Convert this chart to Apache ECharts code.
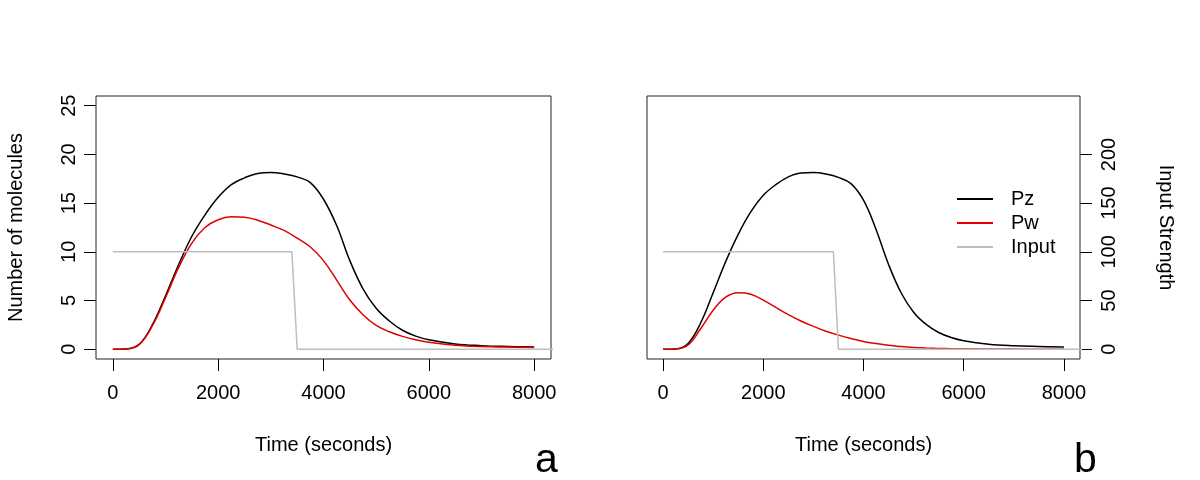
<!DOCTYPE html>
<html>
<head>
<meta charset="utf-8">
<script src="https://cdn.jsdelivr.net/npm/echarts@6/dist/echarts.min.js"></script>
<style>
html,body{margin:0;padding:0;background:#fff;}
#chart{width:1200px;height:480px;}
</style>
</head>
<body>
<div id="chart"></div>
<script>
// ---- data ----
var times = [0,250,500,750,1000,1250,1500,1750,2000,2250,2500,2750,3000,3250,3500,3750,4000,4250,4500,4750,5000,5250,5500,5750,6000,6500,7000,7500,8000];
var pzA = [0,0.03,0.5,2.5,5.5,8.7,11.6,13.8,15.6,16.9,17.6,18.05,18.15,18.0,17.7,17.1,15.4,12.7,9.1,6.2,4.2,2.9,1.95,1.35,0.98,0.55,0.37,0.28,0.22];
var pwA = [0,0.03,0.5,2.4,5.3,8.4,10.9,12.5,13.3,13.6,13.55,13.25,12.75,12.2,11.4,10.5,9.1,7.1,5.05,3.55,2.45,1.8,1.32,0.97,0.72,0.42,0.28,0.22,0.18];
var pzB = [0,0.03,0.6,2.7,5.8,9.0,11.8,14.1,15.8,16.9,17.7,18.1,18.15,18.0,17.65,17.0,15.3,12.3,8.7,5.8,3.8,2.55,1.72,1.2,0.87,0.52,0.36,0.28,0.22];
var pwB = [0,0.03,0.45,2.1,4.0,5.35,5.8,5.65,5.05,4.3,3.55,2.9,2.35,1.85,1.45,1.1,0.8,0.58,0.4,0.28,0.19,0.13,0.09,0.06,0.05,0.03,0.02,0.01,0.01];
var inputTimes = [0,3400,3500,9000];
var inputStrength = [100,100,0,0];
var xTicks = [0,2000,4000,6000,8000];
var yTicks = [0,5,10,15,20,25];
var y2Ticks = [0,50,100,150,200];

function pairs(xs, ys){ return xs.map(function(x,i){ return [x, ys[i]]; }); }
function plain(v){ return String(v); }

var FONT = 'Liberation Sans, Arial, Helvetica, sans-serif';
var FS = 20;
var chart = echarts.init(document.getElementById('chart'), null, {renderer:'canvas'});

function xAxisDef(gi){
  return {
    type:'value', gridIndex:gi, min:-320, max:8320,
    axisLine:{show:false, onZero:false},
    splitLine:{show:false},
    axisTick:{show:true, inside:false, length:12, lineStyle:{color:'#000', width:1}, customValues:xTicks},
    axisLabel:{show:true, margin:24, color:'#000', fontSize:FS, fontFamily:FONT, customValues:xTicks, formatter:plain},
    name:'Time (seconds)', nameLocation:'middle', nameGap:76,
    nameTextStyle:{color:'#000', fontSize:FS, fontFamily:FONT}
  };
}

var option = {
  animation:false,
  backgroundColor:'#fff',
  textStyle:{fontFamily:FONT},
  title:[
    {text:'a', left:530, top:435, textStyle:{fontSize:41, fontWeight:'normal', color:'#000', fontFamily:FONT}},
    {text:'b', left:1069, top:435, textStyle:{fontSize:41, fontWeight:'normal', color:'#000', fontFamily:FONT}}
  ],
  legend:{
    orient:'vertical', left:952, top:182,
    itemWidth:36, itemHeight:2, itemGap:0,
    icon:'rect',
    data:['Pz','Pw','Input'],
    textStyle:{color:'#000', fontSize:FS, fontFamily:FONT, lineHeight:24, padding:[0,0,0,13]},
    selectedMode:false
  },
  grid:[
    {left:96, top:96, width:455, height:263, show:true, borderColor:'#222', borderWidth:1, backgroundColor:'transparent'},
    {left:647, top:96, width:433, height:263, show:true, borderColor:'#222', borderWidth:1, backgroundColor:'transparent'}
  ],
  xAxis:[ xAxisDef(0), xAxisDef(1) ],
  yAxis:[
    { // left panel molecules
      type:'value', gridIndex:0, position:'left', min:-1, max:26,
      axisLine:{show:false, onZero:false}, splitLine:{show:false},
      axisTick:{show:true, length:12, lineStyle:{color:'#000', width:1}, customValues:yTicks},
      axisLabel:{show:true, rotate:90, margin:17, color:'#000', fontSize:FS, fontFamily:FONT, customValues:yTicks, formatter:plain},
      name:'Number of molecules', nameLocation:'middle', nameGap:70, nameRotate:90,
      nameTextStyle:{color:'#000', fontSize:FS, fontFamily:FONT}
    },
    { // left panel hidden input axis
      type:'value', gridIndex:0, position:'right', min:-10, max:260, show:false,
      axisLine:{onZero:false}
    },
    { // right panel hidden molecules axis
      type:'value', gridIndex:1, position:'left', min:-1, max:26, show:false,
      axisLine:{onZero:false}
    },
    { // right panel input axis
      type:'value', gridIndex:1, position:'right', min:-10, max:260,
      axisLine:{show:false, onZero:false}, splitLine:{show:false},
      axisTick:{show:true, length:12, lineStyle:{color:'#000', width:1}, customValues:y2Ticks},
      axisLabel:{show:true, rotate:90, margin:19, color:'#000', fontSize:FS, fontFamily:FONT, customValues:y2Ticks, formatter:plain},
      name:'Input Strength', nameLocation:'middle', nameGap:76, nameRotate:-90,
      nameTextStyle:{color:'#000', fontSize:FS, fontFamily:FONT}
    }
  ],
  series:[
    {name:'Pz', type:'line', xAxisIndex:0, yAxisIndex:0, data:pairs(times,pzA), smooth:0.4, showSymbol:false, symbol:'none', lineStyle:{color:'#000', width:1.5}, itemStyle:{color:'#000'}},
    {name:'Pw', type:'line', xAxisIndex:0, yAxisIndex:0, data:pairs(times,pwA), smooth:0.4, showSymbol:false, symbol:'none', lineStyle:{color:'#e00000', width:1.5}, itemStyle:{color:'#e00000'}},
    {name:'Input', type:'line', xAxisIndex:0, yAxisIndex:1, data:pairs(inputTimes,inputStrength), clip:true, showSymbol:false, symbol:'none', lineStyle:{color:'#bebebe', width:1.5}, itemStyle:{color:'#bebebe'}},
    {name:'Pz', type:'line', xAxisIndex:1, yAxisIndex:2, data:pairs(times,pzB), smooth:0.4, showSymbol:false, symbol:'none', lineStyle:{color:'#000', width:1.5}, itemStyle:{color:'#000'}},
    {name:'Pw', type:'line', xAxisIndex:1, yAxisIndex:2, data:pairs(times,pwB), smooth:0.4, showSymbol:false, symbol:'none', lineStyle:{color:'#e00000', width:1.5}, itemStyle:{color:'#e00000'}},
    {name:'Input', type:'line', xAxisIndex:1, yAxisIndex:3, data:pairs(inputTimes,inputStrength), clip:true, showSymbol:false, symbol:'none', lineStyle:{color:'#bebebe', width:1.5}, itemStyle:{color:'#bebebe'}}
  ]
};
chart.setOption(option);
</script>
</body>
</html>
